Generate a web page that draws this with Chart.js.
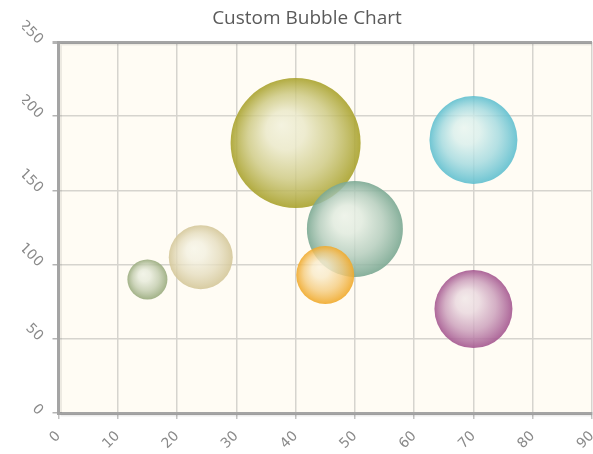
<!DOCTYPE html>
<html>
<head>
<meta charset="utf-8">
<script src="https://cdn.jsdelivr.net/npm/chart.js@4"></script>
<style>
  html, body { margin: 0; padding: 0; background: #fff; }
  #wrap { width: 593px; height: 454px; }
</style>
</head>
<body>
<div id="wrap"><canvas id="chart"></canvas></div>
<script>
// bubble data: x, y, radius (px)
const bubbleX = [40, 50, 70, 70, 45, 24, 15];
const bubbleY = [182, 124, 184, 70, 93, 105, 90];
const bubbleR = [65, 48, 44, 39, 29, 32, 20];
const bubbleColors = ['#a9a22c', '#7aa892', '#5fbfcf', '#a4568f', '#f0a92a', '#d4c799', '#98aa7c'];

const xTicks = [0, 10, 20, 30, 40, 50, 60, 70, 80, 90];
const yTicks = [0, 50, 100, 150, 200, 250];

function hexToRgb(hex) {
  const n = parseInt(hex.slice(1), 16);
  return [(n >> 16) & 255, (n >> 8) & 255, n & 255];
}

// blend a colour toward a warm white, t = share of white
function tint(rgb, t, a) {
  const w = [252, 252, 244];
  const c = rgb.map((v, i) => Math.round(v + (w[i] - v) * t));
  return `rgba(${c[0]},${c[1]},${c[2]},${a})`;
}

function bubbleFill(ctx) {
  const chart = ctx.chart;
  const raw = ctx.raw;
  const base = bubbleColors[ctx.dataIndex];
  if (!raw || !chart.scales.x || !chart.scales.y) return base;
  const cx = chart.scales.x.getPixelForValue(raw.x);
  const cy = chart.scales.y.getPixelForValue(raw.y);
  const r = raw.r;
  if (!isFinite(cx) || !isFinite(cy)) return base;
  const rgb = hexToRgb(base);
  const grad = chart.ctx.createRadialGradient(cx - r * 0.22, cy - r * 0.28, 0, cx, cy, r);
  grad.addColorStop(0, tint(rgb, 0.88, 0.85));
  grad.addColorStop(0.3, tint(rgb, 0.78, 0.82));
  grad.addColorStop(0.65, tint(rgb, 0.42, 0.8));
  grad.addColorStop(1, tint(rgb, 0.0, 0.9));
  return grad;
}

const plotBg = {
  id: 'plotBg',
  beforeDraw(chart) {
    const { ctx, chartArea } = chart;
    ctx.save();
    ctx.fillStyle = '#fffcf4';
    ctx.fillRect(chartArea.left, chartArea.top, chartArea.right - chartArea.left, chartArea.bottom - chartArea.top);
    ctx.restore();
  },
  afterDraw(chart) {
    // soft shadow beside the axis lines
    const { ctx, chartArea } = chart;
    ctx.save();
    ctx.strokeStyle = 'rgba(0,0,0,0.07)';
    ctx.lineWidth = 2;
    ctx.beginPath();
    ctx.moveTo(chartArea.left + 2.5, chartArea.top + 2);
    ctx.lineTo(chartArea.left + 2.5, chartArea.bottom);
    ctx.moveTo(chartArea.left + 2, chartArea.bottom + 2.5);
    ctx.lineTo(chartArea.right, chartArea.bottom + 2.5);
    ctx.moveTo(chartArea.left + 2, chartArea.top + 2.5);
    ctx.lineTo(chartArea.right, chartArea.top + 2.5);
    ctx.stroke();
    ctx.restore();
  }
};

new Chart(document.getElementById('chart'), {
  type: 'bubble',
  data: {
    datasets: [{
      data: bubbleX.map((x, i) => ({ x: x, y: bubbleY[i], r: bubbleR[i] })),
      backgroundColor: bubbleFill,
      borderWidth: 0,
      hoverRadius: 0
    }]
  },
  plugins: [plotBg],
  options: {
    responsive: true,
    maintainAspectRatio: false,
    animation: false,
    layout: { autoPadding: false, padding: { left: 22, right: 1, top: 0, bottom: 0 } },
    plugins: {
      legend: { display: false },
      tooltip: { enabled: false },
      title: {
        display: true,
        text: 'Custom Bubble Chart',
        color: '#5a5a5a',
        font: { family: 'Open Sans', size: 19, weight: 'normal', lineHeight: 1.2 },
        padding: { top: 7, bottom: 12.2 }
      }
    },
    scales: {
      x: {
        type: 'linear',
        min: 0,
        max: 90,
        afterBuildTicks: s => { s.ticks = xTicks.map(v => ({ value: v })); },
        afterFit: s => { s.height = 41; s.paddingLeft = 0; s.paddingRight = 0; },
        ticks: {
          minRotation: 45,
          maxRotation: 45,
          color: '#8a8a8a',
          font: { family: 'DejaVu Sans', size: 14 },
          padding: 9
        },
        grid: { color: '#d6d4ce', lineWidth: 1.5, tickLength: 6, tickColor: '#c4c4c4' },
        border: { color: '#a4a4a4', width: 3 }
      },
      y: {
        type: 'linear',
        min: 0,
        max: 250,
        afterBuildTicks: s => { s.ticks = yTicks.map(v => ({ value: v })); },
        afterFit: s => { s.width = 36.5; s.paddingTop = 0; s.paddingBottom = 0; },
        ticks: {
          minRotation: -45,
          maxRotation: -45,
          color: '#8a8a8a',
          font: { family: 'DejaVu Sans', size: 14 },
          padding: 12
        },
        grid: {
          color: c => c.tick && c.tick.value === 250 ? '#a4a4a4' : '#d6d4ce',
          lineWidth: c => c.tick && c.tick.value === 250 ? 3 : 1.5,
          tickLength: 6,
          tickColor: '#b4b4b4'
        },
        border: { color: '#a4a4a4', width: 3 }
      }
    }
  }
});
</script>
</body>
</html>
